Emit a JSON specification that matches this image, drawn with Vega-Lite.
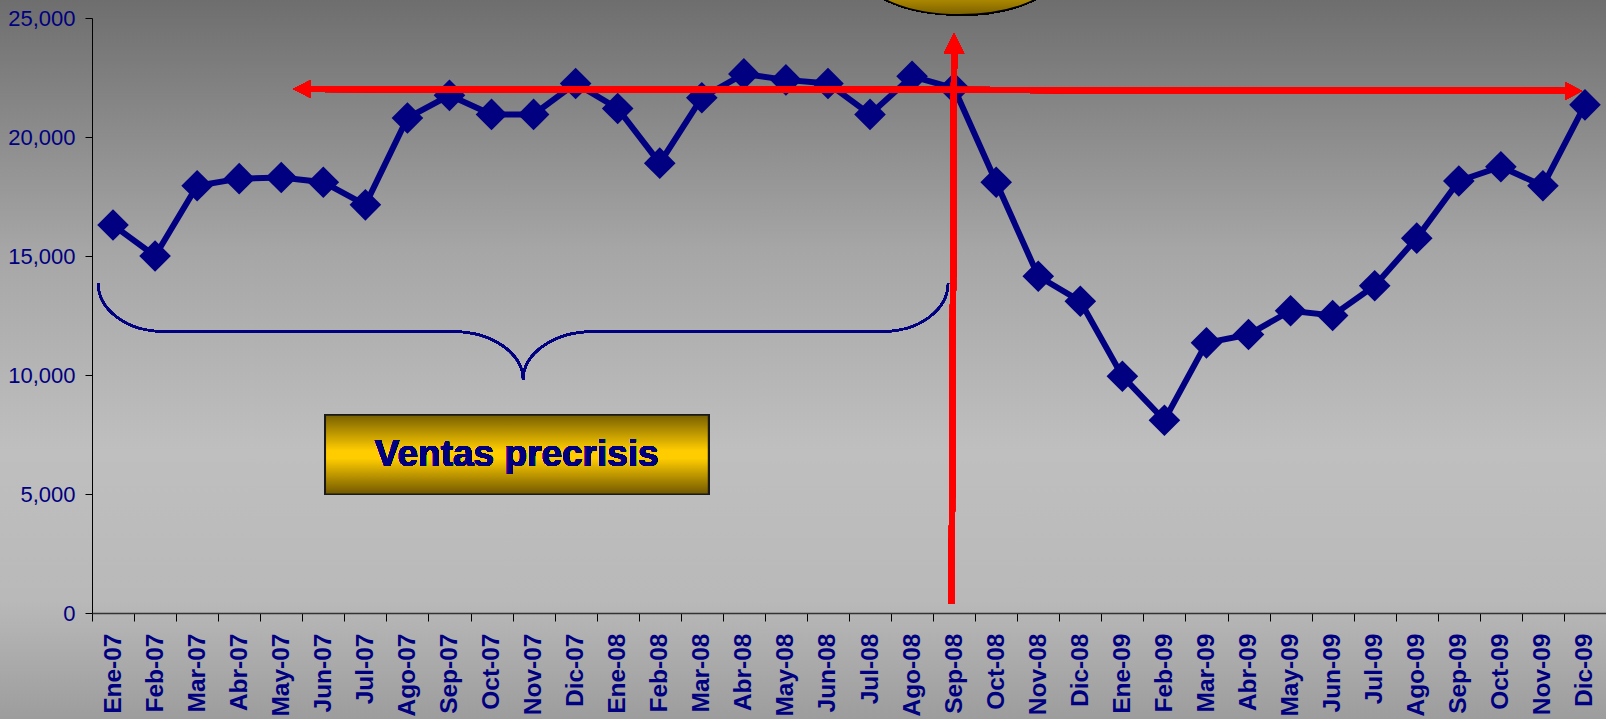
{
  "$schema": "https://vega.github.io/schema/vega-lite/v6.json",
  "autosize": {"type": "none"},
  "padding": {"left": 92, "top": 18, "right": 0, "bottom": 106},
  "width": 1514,
  "height": 595,
  "background": "#a8a8a8",
  "config": {"font": "Liberation Sans", "view": {"stroke": null}},
  "data": {"values": [
    {"mes": "Ene-07", "ventas": 16300}, {"mes": "Feb-07", "ventas": 15000}, {"mes": "Mar-07", "ventas": 17950},
    {"mes": "Abr-07", "ventas": 18250}, {"mes": "May-07", "ventas": 18300}, {"mes": "Jun-07", "ventas": 18100},
    {"mes": "Jul-07", "ventas": 17150}, {"mes": "Ago-07", "ventas": 20800}, {"mes": "Sep-07", "ventas": 21750},
    {"mes": "Oct-07", "ventas": 20950}, {"mes": "Nov-07", "ventas": 20950}, {"mes": "Dic-07", "ventas": 22250},
    {"mes": "Ene-08", "ventas": 21200}, {"mes": "Feb-08", "ventas": 18900}, {"mes": "Mar-08", "ventas": 21650},
    {"mes": "Abr-08", "ventas": 22650}, {"mes": "May-08", "ventas": 22400}, {"mes": "Jun-08", "ventas": 22250},
    {"mes": "Jul-08", "ventas": 20950}, {"mes": "Ago-08", "ventas": 22550}, {"mes": "Sep-08", "ventas": 22050},
    {"mes": "Oct-08", "ventas": 18100}, {"mes": "Nov-08", "ventas": 14150}, {"mes": "Dic-08", "ventas": 13100},
    {"mes": "Ene-09", "ventas": 9950}, {"mes": "Feb-09", "ventas": 8100}, {"mes": "Mar-09", "ventas": 11350},
    {"mes": "Abr-09", "ventas": 11700}, {"mes": "May-09", "ventas": 12700}, {"mes": "Jun-09", "ventas": 12500},
    {"mes": "Jul-09", "ventas": 13750}, {"mes": "Ago-09", "ventas": 15750}, {"mes": "Sep-09", "ventas": 18150},
    {"mes": "Oct-09", "ventas": 18750}, {"mes": "Nov-09", "ventas": 17950}, {"mes": "Dic-09", "ventas": 21350}
  ]},
  "resolve": {"scale": {"x": "independent"}},
  "layer": [
    {
      "mark": {"type": "rect", "clip": false, "strokeWidth": 0,
        "fill": {"gradient": "linear", "x1": 0, "y1": 0, "x2": 0, "y2": 1, "stops": [
          {"offset": 0, "color": "#6c6c6c"},
          {"offset": 0.011, "color": "#6e6e6e"},
          {"offset": 0.353, "color": "#a6a6a6"},
          {"offset": 0.627, "color": "#bfbfbf"},
          {"offset": 0.832, "color": "#b9b9b9"},
          {"offset": 1, "color": "#9c9c9c"}
        ]}},
      "encoding": {
        "x": {"datum": -2.5, "type": "quantitative", "scale": {"domain": [0, 36], "nice": false, "zero": false}, "axis": null},
        "x2": {"datum": 36.5},
        "y": {"datum": -4600, "type": "quantitative"},
        "y2": {"datum": 26100}
      }
    },
    {
      "mark": {"type": "point", "clip": false, "filled": false, "opacity": 1, "stroke": "#000080", "strokeWidth": 2,
        "shape": "M-1,-0.114 C-1,-0.051 -0.932,0 -0.847,0 L-0.165,0 C-0.074,0 0,0.051 0,0.114 C0,0.051 0.074,0 0.165,0 L0.847,0 C0.932,0 1,-0.051 1,-0.114",
        "size": 722500},
      "encoding": {
        "x": {"datum": 10.25, "type": "quantitative", "scale": {"domain": [0, 36], "nice": false, "zero": false}, "axis": null},
        "y": {"datum": 11830, "type": "quantitative"}
      }
    },
    {
      "mark": {"type": "rect", "clip": false, "stroke": "#1a1a1a", "strokeWidth": 1.5,
        "fill": {"gradient": "linear", "x1": 0, "y1": 0, "x2": 0, "y2": 1, "stops": [
          {"offset": 0, "color": "#786000"},
          {"offset": 0.45, "color": "#ffcc00"},
          {"offset": 0.55, "color": "#ffcc00"},
          {"offset": 1, "color": "#705700"}
        ]}},
      "encoding": {
        "x": {"datum": 5.547, "type": "quantitative", "scale": {"domain": [0, 36], "nice": false, "zero": false}, "axis": null},
        "x2": {"datum": 14.66},
        "y": {"datum": 8320, "type": "quantitative"},
        "y2": {"datum": 4988}
      }
    },
    {
      "mark": {"type": "text", "clip": false, "text": "Ventas precrisis", "font": "Liberation Sans", "fontSize": 37, "fontWeight": "bold", "fill": "#000080", "stroke": null, "align": "center", "baseline": "middle"},
      "encoding": {
        "x": {"datum": 10.1, "type": "quantitative", "scale": {"domain": [0, 36], "nice": false, "zero": false}, "axis": null},
        "y": {"datum": 6651, "type": "quantitative"}
      }
    },
    {
      "mark": {"type": "line", "color": "#000080", "strokeWidth": 6, "clip": false,
        "point": {"shape": "diamond", "size": 1000, "filled": true, "color": "#000080", "opacity": 1}},
      "encoding": {
        "x": {"field": "mes", "type": "ordinal", "sort": null,
          "scale": {"type": "band", "paddingInner": 0, "paddingOuter": 0},
          "axis": {"title": null, "labelAngle": -90, "labelFont": "Liberation Sans", "labelFontWeight": "bold", "labelFontSize": 24.5,
            "labelColor": "#000080", "tickBand": "extent", "tickSize": 8, "tickColor": "#000000", "domainColor": "#333333", "domainWidth": 1.5,
            "labelPadding": 12, "grid": false, "zindex": 1, "labelOverlap": false, "labelBound": false}},
        "y": {"field": "ventas", "type": "quantitative",
          "scale": {"domain": [0, 25000], "nice": false, "zero": true},
          "axis": {"title": null, "values": [0, 5000, 10000, 15000, 20000, 25000], "format": ",d", "labelFont": "Liberation Sans",
            "labelFontSize": 22, "labelColor": "#000080", "tickSize": 7, "tickColor": "#000000", "domainColor": "#000000",
            "labelPadding": 10, "grid": false, "zindex": 1}}
      }
    },
    {
      "mark": {"type": "rule", "clip": false, "color": "#ff0000", "strokeWidth": 6},
      "encoding": {
        "x": {"datum": 5.03, "type": "quantitative", "scale": {"domain": [0, 36], "nice": false, "zero": false}, "axis": null},
        "x2": {"datum": 35.2},
        "y": {"datum": 22014, "type": "quantitative"},
        "y2": {"datum": 21938}
      }
    },
    {
      "mark": {"type": "rule", "clip": false, "color": "#ff0000", "strokeWidth": 6},
      "encoding": {
        "x": {"datum": 20.44, "type": "quantitative", "scale": {"domain": [0, 36], "nice": false, "zero": false}, "axis": null},
        "x2": {"datum": 20.5},
        "y": {"datum": 378, "type": "quantitative"},
        "y2": {"datum": 23867}
      }
    },
    {
      "mark": {"type": "point", "clip": false, "filled": true, "opacity": 1, "color": "#ff0000", "strokeWidth": 0,
        "shape": "M0,0 L1,-0.52 L1,0.52 Z", "size": 1156},
      "encoding": {
        "x": {"datum": 4.786, "type": "quantitative", "scale": {"domain": [0, 36], "nice": false, "zero": false}, "axis": null},
        "y": {"datum": 22018, "type": "quantitative"}
      }
    },
    {
      "mark": {"type": "point", "clip": false, "filled": true, "opacity": 1, "color": "#ff0000", "strokeWidth": 0,
        "shape": "M0,0 L-1,-0.52 L-1,0.52 Z", "size": 1156},
      "encoding": {
        "x": {"datum": 35.43, "type": "quantitative", "scale": {"domain": [0, 36], "nice": false, "zero": false}, "axis": null},
        "y": {"datum": 21934, "type": "quantitative"}
      }
    },
    {
      "mark": {"type": "point", "clip": false, "filled": true, "opacity": 1, "color": "#ff0000", "strokeWidth": 0,
        "shape": "M0,0 L-0.5,1 L0.5,1 Z", "size": 1600},
      "encoding": {
        "x": {"datum": 20.5, "type": "quantitative", "scale": {"domain": [0, 36], "nice": false, "zero": false}, "axis": null},
        "y": {"datum": 24359, "type": "quantitative"}
      }
    },
    {
      "mark": {"type": "point", "clip": false, "filled": true, "opacity": 1, "stroke": "#000000", "strokeWidth": 1.5,
        "fill": {"gradient": "linear", "x1": 0, "y1": 0, "x2": 0, "y2": 1, "stops": [
          {"offset": 0, "color": "#806400"},
          {"offset": 0.5, "color": "#ffcc00"},
          {"offset": 1, "color": "#7a5f00"}
        ]},
        "shape": "M-1,0 C-1,-0.232 -0.552,-0.42 0,-0.42 C0.552,-0.42 1,-0.232 1,0 C1,0.232 0.552,0.42 0,0.42 C-0.552,0.42 -1,0.232 -1,0 Z",
        "size": 36100},
      "encoding": {
        "x": {"datum": 20.64, "type": "quantitative", "scale": {"domain": [0, 36], "nice": false, "zero": false}, "axis": null},
        "y": {"datum": 26809, "type": "quantitative"}
      }
    }
  ]
}
